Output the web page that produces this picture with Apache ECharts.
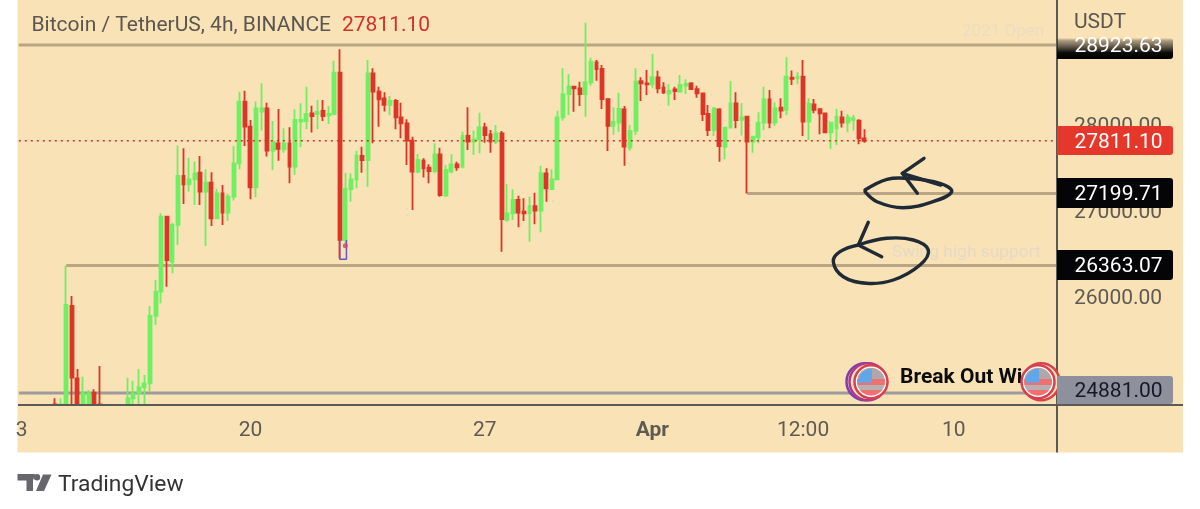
<!DOCTYPE html>
<html><head><meta charset="utf-8">
<style>html,body{margin:0;padding:0;background:#fff}#c{width:1200px;height:509px}</style>
<script src="https://cdn.jsdelivr.net/npm/echarts@6/dist/echarts.min.js"></script>
</head><body><div id="c"></div>
<script>
const n = null;
const opens = [n,n,n,n,n,n,24750,24745,24650,25892,
25051,24700,24700,24885,24750,n,n,n,n,24700,
24819,24877,24947,24993,25776,26058,26930,26407,26833,27402,
27305,27363,27441,27220,27325,26910,27201,26976,27162,27549,
28266,27975,27271,28150,28188,27696,27782,27712,27782,27511,
28033,28041,28130,28122,28157,28107,28122,28603,26659,27251,
27363,27635,27588,28595,28382,28304,28227,28273,28084,28014,
27813,27453,27580,27499,27460,27654,27173,27452,27537,27510,
27867,27801,27828,27967,27886,27801,27898,26891,26968,27123,
26988,26968,27053,26999,27433,27251,27363,28083,28354,28440,
28420,28354,28490,28722,28645,28296,27983,28021,28176,27731,
27925,28505,28478,28467,28548,28428,28362,28409,28382,28451,
28478,28412,28362,28122,27936,28176,27743,27963,28246,28053,
28091,27801,27851,28022,28293,28022,28196,28169,28544,28537,
28556,28033,28235,28177,28130,27909,27956,28084,28022,28053,
28045,27840];
const closes = [n,n,n,n,n,n,24745,24750,25903,25059,
24650,24877,24877,24700,24745,n,n,n,n,24819,
24877,24947,24993,25776,26058,26930,26426,26833,27402,27305,
27363,27433,27220,27325,26910,27201,26976,27162,27549,28266,
27975,27271,28188,28188,27696,27801,27716,27782,27511,28053,
28053,28122,28099,28150,28099,28122,28603,26659,27251,27363,
27638,27588,28595,28382,28293,28227,28273,28084,28014,27813,
27453,27588,27491,27460,27654,27181,27472,27537,27503,27867,
27801,27828,27967,27878,27801,27898,26902,26968,27123,26976,
26968,27053,26999,27433,27259,27363,28083,28354,28440,28420,
28354,28490,28730,28645,28296,27983,28033,28180,27743,27925,
28498,28478,28467,28548,28420,28374,28389,28389,28459,28471,
28412,28362,28122,27936,28188,27750,27963,28246,28052,28084,
27801,27859,28022,28293,28022,28188,28161,28556,28529,28556,
28033,28239,28169,28130,27909,28022,28091,28022,28084,28072,
27840,27811];
const lows = [n,n,n,n,n,n,24600,24600,24600,24650,
24600,24650,24650,24650,24650,n,n,n,n,24650,
24700,24700,24700,24897,25671,25923,26116,26271,26601,27077,
27220,27065,27065,26589,26821,26910,26833,26883,27116,27480,
27751,27131,27154,27929,27627,27472,27580,27673,27317,27414,
27735,27944,27906,27944,28041,28006,28122,26446,26612,27104,
27259,27441,27278,27782,27975,28150,28111,27944,27840,27530,
27007,27433,27383,27317,27433,27162,27162,27433,27464,27491,
27704,27646,27665,27789,27673,27774,26523,26871,26891,26806,
26879,26639,26840,26747,27104,27239,27363,28045,28110,28149,
28215,28091,28451,28509,28180,27692,27878,27917,27522,27696,
27878,28273,28343,28420,28362,28354,28219,28285,28370,28354,
28401,28312,28041,27867,27867,27568,27596,27963,27956,27871,
27200,27673,27782,27937,27956,27983,28072,28111,28459,28467,
27867,27820,28130,27886,27909,27716,27762,27964,27909,27929,
27770,27789];
const highs = [n,n,n,n,n,n,24819,24819,26363,26008,
25160,25071,24916,24924,25195,n,n,n,n,25059,
25024,25160,25090,25892,26194,26969,26938,26860,27755,27724,
27615,27569,27635,27480,27445,27251,27298,27193,27751,28382,
28393,28053,28266,28479,28254,28041,28180,27956,27967,28177,
28246,28440,28219,28285,28285,28215,28742,28874,27441,27433,
27693,27743,28750,28653,28440,28374,28332,28297,28254,28060,
27859,27658,27607,27538,27782,27731,27530,27654,27568,27917,
28200,27929,28138,28021,27936,27994,27925,27309,27247,27173,
27142,27162,27208,27522,27491,27479,28161,28653,28587,28447,
28498,29183,28776,28749,28691,28304,28200,28370,28215,27994,
28653,28548,28633,28819,28625,28490,28471,28440,28575,28525,
28490,28451,28370,28227,28200,28188,27963,28505,28374,28246,
28099,27859,28142,28440,28401,28258,28304,28781,28626,28606,
28750,28304,28297,28188,28130,28033,28180,28161,28122,28111,
28060,27944];

const slotCount = 186;
const xTickLabels = {0:'3',41:'20',83:'27',113:'{b|Apr}',140:'12:00',167:'10'};
const yTickValues = [26000,27000,28000];
const openLevel = 28923.63, lastPrice = 27811.10, level2 = 27199.71, level3 = 26363.07, level4 = 24881.00;
const level2Start = 130.5, level3Start = 8.5;
const boxX = [57.5,57.5,58.7,58.7], boxY = [26659,26435,26435,26659];
const dot = [58.5,26593];
const yMin = 24741.6, yMax = 29446.4;

const categories = Array.from({length:slotCount},(_,i)=>xTickLabels[i]||'');
const floorY = v => Math.max(v,yMin);
const candles = categories.map((_,i)=> opens[i]==null ? ['-','-','-','-'] : [floorY(opens[i]),floorY(closes[i]),floorY(lows[i]),highs[i]]);

const BG='#f8e2b6', FONT='Roboto', RED='#dd3527', GREEN='#6ff063', AXC='#5f5a52';
function lvl(x0,v,color,width,type){return {type:'line',xAxisIndex:1,yAxisIndex:0,silent:true,symbol:'none',animation:false,
  data:[[x0,v],[slotCount,v]],lineStyle:{color,width,type:type||'solid'},z:type?4:1};}
function tag(y0,y1,v,fill,tc){return [
  {type:'rect',z:100,shape:{x:1057,y:y0,width:116,height:y1-y0,r:[0,3,3,0]},style:{fill}},
  {type:'text',z:101,style:{x:1118.5,y:(y0+y1)/2+2+(v==='28923.63'?-4:0),text:v,fill:tc,font:'21px '+FONT,textAlign:'center',textVerticalAlign:'middle'}}
];}
function flag(cx,cy,rings){
  const r=14, els=[];
  rings.forEach(g=>els.push({type:'circle',z:60,shape:{cx:cx+g[0],cy:cy,r:18.5},style:{fill:BG,stroke:g[1],lineWidth:2.5}}));
  els.push({type:'circle',z:61,shape:{cx,cy,r:16.5},style:{fill:'#fff',stroke:'#d8404f',lineWidth:2.5}});
  els.push({type:'circle',z:62,shape:{cx,cy,r},style:{fill:{type:'linear',x:0,y:0,x2:0,y2:1,colorStops:[
    {offset:0,color:'#b0a8a8'},{offset:.42,color:'#b0a8a8'},{offset:.42,color:'#f07070'},{offset:.62,color:'#f07070'},
    {offset:.62,color:'#b8b0b0'},{offset:.78,color:'#b8b0b0'},{offset:.78,color:'#f07070'},{offset:1,color:'#f07070'}]}}});
  els.push({type:'sector',z:63,shape:{cx:cx+1,cy:cy+1,r:r,r0:0,startAngle:Math.PI,endAngle:Math.PI*1.5,clockwise:true},style:{fill:'#62a6ea'}});
  return els;
}
const ink={stroke:'#1f2a35',lineWidth:3.4,fill:null,lineCap:'round',lineJoin:'round'};
const graphicEls=[
  {type:'rect',z:-10,silent:true,shape:{x:17.5,y:0,width:1165.5,height:452.5},style:{fill:BG}},
  {type:'line',z:50,shape:{x1:18,y1:405,x2:1183,y2:405},style:{stroke:'#5c5a56',lineWidth:2}},
  {type:'line',z:50,shape:{x1:1057,y1:0,x2:1057,y2:452.5},style:{stroke:'#5c5a56',lineWidth:2}},
  {type:'text',z:50,style:{x:31.5,y:26,text:'Bitcoin / TetherUS, 4h, BINANCE',fill:'#5b564f',font:'21px '+FONT,textVerticalAlign:'middle'}},
  {type:'text',z:50,style:{x:342,y:26,text:'27811.10',fill:'#cf3229',font:'21px '+FONT,textVerticalAlign:'middle'}},
  {type:'text',z:50,style:{x:1074,y:22.5,text:'USDT',fill:'#5b564f',font:'21px '+FONT,textVerticalAlign:'middle'}},
  {type:'text',z:3,style:{x:962,y:32,text:'2021 Open',fill:'#ecdcc2',font:'17px '+FONT,textVerticalAlign:'middle'}},
  {type:'text',z:3,style:{x:892,y:253,text:'Swing high support',fill:'#e6d9c6',font:'17.4px '+FONT,textVerticalAlign:'middle'}},
  {type:'text',z:55,style:{x:900,y:377.5,text:'Break Out Wi',fill:'#0c0c0c',font:'bold 21px '+FONT,textVerticalAlign:'middle'}},
  ...flag(871,381.7,[[-6,'#7d3fb0'],[-3,'#b03a8a']]),
  ...flag(1038,381.7,[[3,'#d8404f']]),
  ...tag(38,59,'28923.63',{type:'linear',x:0,y:0,x2:0,y2:1,colorStops:[{offset:0,color:'rgba(0,0,0,0)'},{offset:.15,color:'rgba(60,55,45,.45)'},{offset:.7,color:'#0a0a0a'},{offset:1,color:'#000'}]},'#fff'),
  ...tag(126,155,'27811.10','#e5382a','#fff'),
  ...tag(178,208,'27199.71','#050507','#fff'),
  ...tag(250,280,'26363.07','#050507','#fff'),
  ...tag(376,404,'24881.00','#8e919c','#16182a'),
  {type:'polyline',z:70,shape:{smooth:.4,points:[[865,190],[887,179.3],[907,178.3],[940,183.3],[951.7,191.7],[933,201.7],[903,207.7],[877,201.7],[865,191.7]]},style:ink},
  {type:'polyline',z:70,shape:{points:[[924,158.3],[902.3,173.3],[940.7,185]]},style:ink},
  {type:'polyline',z:70,shape:{points:[[902.3,173.3],[917.3,193.3]]},style:ink},
  {type:'polyline',z:70,shape:{smooth:.4,points:[[858.3,245],[886.7,238.3],[913.3,240],[928.3,250],[920,265],[893.3,280],[866.7,283.3],[843.3,276.7],[833.3,261.7],[840,251.7],[858.3,245]]},style:ink},
  {type:'polyline',z:70,shape:{points:[[868.3,222.3],[858.3,245],[881.7,256.7]]},style:ink},
  {type:'polygon',z:50,shape:{points:[[17.5,474],[35,474],[33,480.5],[33,491],[26.5,491],[26.5,480.5],[17.5,480.5]]},style:{fill:'#66666c'}},
  {type:'polygon',z:50,shape:{points:[[43,474.5],[51.5,474.5],[44,491],[36,491]]},style:{fill:'#66666c'}},
  {type:'circle',z:50,shape:{cx:37,cy:477.3,r:3.2},style:{fill:'#66666c'}},
  {type:'text',z:50,style:{x:58,y:485.5,text:'TradingView',fill:'#333',font:'22.8px '+FONT,textVerticalAlign:'middle'}}
];

const chart=echarts.init(document.getElementById('c'),null,{renderer:'canvas'});
chart.setOption({
  animation:false,backgroundColor:'#fff',
  textStyle:{fontFamily:FONT},
  grid:{left:18.8,right:143,top:0,bottom:104,containLabel:false},
  xAxis:[
    {type:'category',data:categories,boundaryGap:true,axisLine:{show:false},axisTick:{show:false},splitLine:{show:false},
     axisLabel:{show:true,interval:0,hideOverlap:false,margin:15,fontSize:21,color:AXC,fontFamily:FONT,
       rich:{b:{fontSize:21,fontWeight:'bold',color:AXC,fontFamily:FONT}},
       formatter:(v)=>v}},
    {type:'value',min:0,max:slotCount,show:false}
  ],
  yAxis:[{type:'value',position:'right',min:yMin,max:yMax,scale:true,splitLine:{show:false},axisLine:{show:false},axisTick:{show:false},
    axisLabel:{show:true,customValues:yTickValues,margin:17,fontSize:21,color:AXC,fontFamily:FONT,verticalAlign:'top',lineHeight:5,formatter:v=>v.toFixed(2)}}],
  series:[
    lvl(0,openLevel,'#b9a684',3),
    lvl(level3Start,level3,'#b9a684',3),
    lvl(level2Start,level2,'#b9a684',3),
    lvl(0,level4,'#a09b9b',3),
    {type:'candlestick',data:candles,barWidth:3.4,clip:true,z:3,
     itemStyle:{color:GREEN,color0:RED,borderColor:GREEN,borderColor0:RED,borderWidth:1.8}},
    lvl(0,lastPrice,'#c9372c',1.5,[2,4]),
    {type:'line',xAxisIndex:1,yAxisIndex:0,symbol:'none',silent:true,z:5,data:boxX.map((x,i)=>[x,boxY[i]]),lineStyle:{color:'#6a55c9',width:1.5}},
    {type:'scatter',xAxisIndex:1,yAxisIndex:0,silent:true,z:6,symbolSize:5,data:[dot],itemStyle:{color:'#c74a5e'}}
  ],
  graphic:{elements:graphicEls}
});
</script></body></html>
